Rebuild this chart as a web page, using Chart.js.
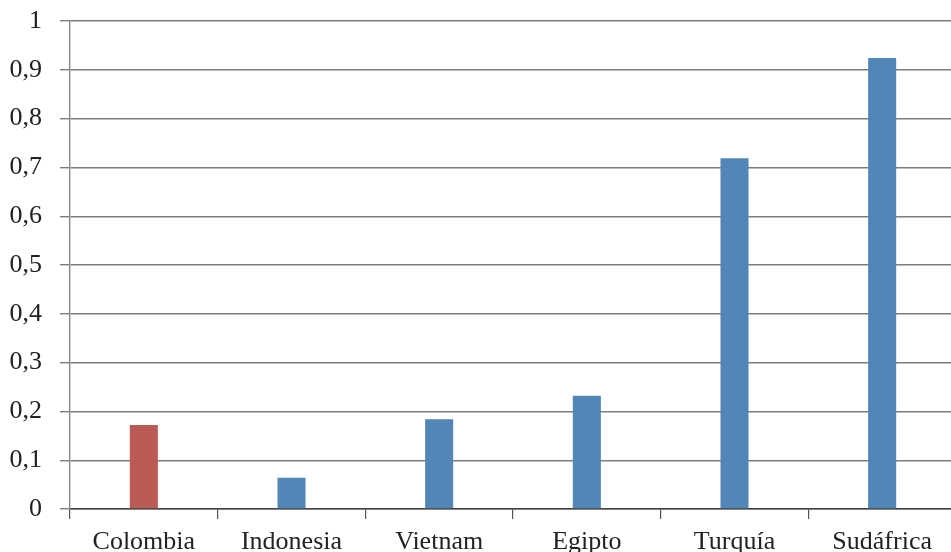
<!DOCTYPE html>
<html>
<head>
<meta charset="utf-8">
<script src="https://cdn.jsdelivr.net/npm/chart.js@4/dist/chart.umd.min.js"></script>
<style>
  html, body { margin: 0; padding: 0; background: #fff; overflow: hidden; }
  #wrap { width: 951px; height: 552px; overflow: hidden; }
  canvas { display: block; }
</style>
</head>
<body>
<div id="wrap"><canvas id="c" width="960" height="580"></canvas></div>
<script>
// Countries and their index values
const categories = ['Colombia', 'Indonesia', 'Vietnam', 'Egipto', 'Turquía', 'Sudáfrica'];
const values = [0.172, 0.064, 0.184, 0.232, 0.719, 0.924];
const yTicks = [0, 0.1, 0.2, 0.3, 0.4, 0.5, 0.6, 0.7, 0.8, 0.9, 1];
const highlighted = 'Colombia';

const RED = '#BA5B55';
const BLUE = '#5186B7';
const GRID = '#7d7d7d';
const TEXT = '#222222';
const FONT = { family: '"Liberation Serif", "DejaVu Serif", serif', size: 26 };

new Chart(document.getElementById('c'), {
  type: 'bar',
  data: {
    labels: categories,
    datasets: [{
      data: values,
      backgroundColor: categories.map(c => c === highlighted ? RED : BLUE),
      borderWidth: 0,
      barPercentage: 1,
      categoryPercentage: 0.19
    }]
  },
  options: {
    responsive: false,
    animation: false,
    layout: { padding: { top: 21, right: 4, bottom: 0, left: 0 } },
    plugins: { legend: { display: false }, tooltip: { enabled: false } },
    scales: {
      x: {
        offset: true,
        grid: {
          offset: true,
          drawOnChartArea: false,
          drawTicks: true,
          tickLength: 10,
          color: '#555',
          lineWidth: 1.2
        },
        border: { display: true, color: '#444', width: 1.5 },
        ticks: { color: TEXT, font: FONT, padding: 8, maxRotation: 0, autoSkip: false },
        afterFit: s => { s.height = 71; }
      },
      y: {
        min: 0,
        max: 1,
        afterBuildTicks: s => { s.ticks = yTicks.map(v => ({ value: v })); },
        grid: {
          drawOnChartArea: true,
          drawTicks: true,
          tickLength: 10,
          color: GRID,
          lineWidth: 1.4
        },
        border: { display: true, color: '#8a8a8a', width: 1.4 },
        ticks: {
          color: TEXT,
          font: FONT,
          padding: 18,
          callback: v => String(Math.round(v * 10) / 10).replace('.', ',')
        },
        afterFit: s => { s.width = 70; s.paddingTop = 0; s.paddingBottom = 0; }
      }
    }
  }
});
</script>
</body>
</html>
